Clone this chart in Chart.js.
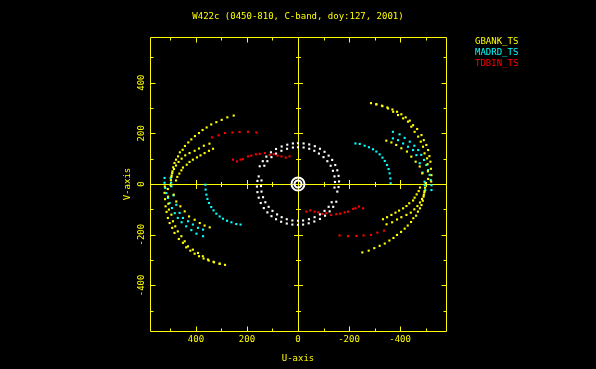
<!DOCTYPE html>
<html lang="en">
<head>
<meta charset="UTF-8" />
<title>W422c uv coverage</title>
<script src="https://cdn.jsdelivr.net/npm/chart.js"></script>
<style>
  body { margin: 0; background: #000; }
</style>
</head>
<body>
<canvas id="uv" width="596" height="369"></canvas>
<script>
// uv tracks, one half each; the plot also shows the conjugate points (-u, -v)
const gbankA = [[252,270],[277,263],[299,253],[320,244],[340,235],[358,223],[374,213],[388,201],[404,189],[418,176],[430,164],[443,150],[452,135],[463,125],[470,109],[478,96],[484,83],[489,66],[492,50],[495,34],[498,15],[500,-3]];
const gbankB = [[347,159],[369,151],[388,140],[405,131],[425,122],[442,113],[456,100],[468,87],[478,73],[486,59],[493,43],[496,28]];
const gbankC = [[333,139],[349,131],[366,122],[382,113],[396,105],[412,96],[425,87],[436,76],[451,65],[457,54],[465,41],[473,28],[478,14]];
const gbankD = [[522,-10],[523,-35],[521,-60],[519,-88],[515,-110],[510,-134],[503,-154],[493,-173],[484,-193],[467,-217],[451,-232],[438,-250],[422,-263],[405,-275],[388,-285],[370,-294],[350,-302],[329,-309],[307,-314],[286,-319]];
const gbankE = [[487,-42],[477,-69],[461,-88],[444,-108],[427,-128],[405,-141],[385,-154],[366,-164],[346,-171]];
const gbankF = [[510,-20],[509,-50],[508,-78],[506,-101],[496,-121],[490,-147],[481,-167],[471,-187],[457,-206],[444,-226],[431,-246],[412,-259],[392,-272],[373,-285],[353,-298],[331,-307],[307,-315]];

const madrdA = [[363,-3],[362,-22],[359,-42],[355,-59],[349,-75],[340,-91],[331,-104],[320,-117],[307,-128],[294,-137],[278,-145],[261,-151],[242,-158],[225,-160]];
const madrdB = [[523,24],[523,5],[520,-16],[516,-36],[510,-55],[503,-75],[494,-95],[483,-115],[471,-134],[456,-151],[438,-167],[418,-182],[398,-196],[372,-206]];
const madrdC = [[499,24],[497,5],[496,-9],[488,-45],[477,-82],[464,-114],[451,-134],[431,-147],[412,-160],[392,-173],[372,-180]];

const tdbinA = [[337,184],[311,192],[286,201],[257,203],[229,205],[196,206],[163,203]];
const tdbinB = [[255,96],[239,89],[225,96],[216,98],[196,109],[183,112],[165,117],[150,119],[130,122],[111,115],[95,118],[80,112],[65,109],[48,104],[33,109]];

const otherA = [[150,70],[138,90],[124,108],[106,125],[86,138],[64,148],[42,155],[20,160],[0,161],[-22,160],[-44,156],[-66,149],[-86,139],[-104,127],[-120,112],[-134,95],[-146,75],[-154,54],[-159,32],[-161,10],[-159,-12],[-154,-30]];
const otherB = [[132,72],[120,90],[104,106],[86,120],[65,131],[43,139],[20,144],[0,145],[-22,144],[-44,139],[-64,131],[-82,120],[-100,106],[-115,90],[-128,72],[-137,52],[-143,30],[-145,8],[-143,-14]];

const baselines = ['GBANK_TS', 'MADRD_TS', 'TDBIN_TS'];
const colors = ['#ffff00', '#00ffff', '#ff0000'];

const majorTicks = [-400, -200, 0, 200, 400];
const minorTicks = [-500, -300, -100, 100, 300, 500];
const uTickLabels = ['-400', '-200', '0', '200', '400'];
const vTickLabels = ['-400', '-200', '0', '200', '400'];

const axisColor = '#ffff00';
const font = '9px "DejaVu Sans Mono"';

function withConj(tracks) {
  const out = [];
  tracks.forEach(t => t.forEach(p => {
    out.push({x: p[0], y: p[1]});
    out.push({x: -p[0], y: -p[1]});
  }));
  return out;
}

function dots(label, data, color) {
  return {
    label: label,
    data: data,
    pointStyle: 'rect',
    pointRadius: 1.5,
    borderWidth: 0,
    backgroundColor: color
  };
}

// snap to pixel centres so 1px lines stay sharp
const snap = v => Math.round(v) + 0.5;

const frame = {
  id: 'frame',
  beforeDraw(chart) {
    const c = chart.ctx;
    c.save();
    c.fillStyle = '#000';
    c.fillRect(0, 0, chart.width, chart.height);
    c.restore();
  },
  beforeDatasetsDraw(chart) {
    const c = chart.ctx;
    const xs = chart.scales.x, ys = chart.scales.y;
    const a = chart.chartArea;
    const L = snap(a.left), R = snap(a.right), T = snap(a.top), B = snap(a.bottom);
    const x0 = snap(xs.getPixelForValue(0)), y0 = snap(ys.getPixelForValue(0));
    c.save();
    c.strokeStyle = axisColor;
    c.lineWidth = 1;
    c.beginPath();
    c.rect(L, T, R - L, B - T);
    c.moveTo(L, y0); c.lineTo(R, y0);
    c.moveTo(x0, T); c.lineTo(x0, B);
    const tick = (t, len, cross) => {
      const px = snap(xs.getPixelForValue(t)), py = snap(ys.getPixelForValue(t));
      c.moveTo(px, B); c.lineTo(px, B - len);
      c.moveTo(px, T); c.lineTo(px, T + len);
      c.moveTo(L, py); c.lineTo(L + len, py);
      c.moveTo(R, py); c.lineTo(R - len, py);
      if (t !== 0) {
        c.moveTo(px, y0 - cross); c.lineTo(px, y0 + cross);
        c.moveTo(x0 - cross, py); c.lineTo(x0 + cross, py);
      }
    };
    majorTicks.forEach(t => tick(t, 5, 4.5));
    minorTicks.forEach(t => tick(t, 3, 2.5));
    c.stroke();
    c.restore();
  },
  afterDraw(chart) {
    const c = chart.ctx;
    const xs = chart.scales.x, ys = chart.scales.y;
    c.save();
    c.font = font;
    c.fillStyle = axisColor;
    c.textAlign = 'center';
    c.textBaseline = 'middle';
    c.fillText('W422c (0450-810, C-band, doy:127, 2001)', 298, 16.5);
    majorTicks.forEach((t, i) => c.fillText(uTickLabels[i], xs.getPixelForValue(t), 340));
    c.fillText('U-axis', 298, 359);
    majorTicks.forEach((t, i) => {
      c.save();
      c.translate(142, ys.getPixelForValue(t));
      c.rotate(-Math.PI / 2);
      c.fillText(vTickLabels[i], 0, 0);
      c.restore();
    });
    c.save();
    c.translate(128, ys.getPixelForValue(0));
    c.rotate(-Math.PI / 2);
    c.fillText('V-axis', 0, 0);
    c.restore();
    c.textAlign = 'left';
    baselines.forEach((b, i) => {
      c.fillStyle = colors[i];
      c.fillText(b, 475, 42 + i * 10.7);
    });
    c.restore();
  }
};

new Chart(document.getElementById('uv'), {
  type: 'scatter',
  data: {
    datasets: [
      dots(baselines[0], withConj([gbankA, gbankB, gbankC, gbankD, gbankE, gbankF]), colors[0]),
      dots(baselines[1], withConj([madrdA, madrdB, madrdC]), colors[1]),
      dots(baselines[2], withConj([tdbinA, tdbinB]), colors[2]),
      dots('other', withConj([otherA, otherB]), '#ffffff'),
      {
        label: 'zero',
        data: [{x: 0, y: 0}, {x: 0, y: 0}],
        pointStyle: 'circle',
        pointRadius: [6.5, 3.5],
        borderWidth: 2,
        borderColor: '#ffffff',
        backgroundColor: 'rgba(0,0,0,0)'
      }
    ]
  },
  options: {
    responsive: false,
    devicePixelRatio: 1,
    animation: false,
    events: [],
    layout: { padding: { left: 150, right: 150, top: 37, bottom: 38 } },
    plugins: { legend: { display: false }, tooltip: { enabled: false } },
    scales: {
      x: { type: 'linear', min: -580, max: 580, reverse: true, display: false },
      y: { type: 'linear', min: -580, max: 580, display: false }
    }
  },
  plugins: [frame]
});
</script>
</body>
</html>
